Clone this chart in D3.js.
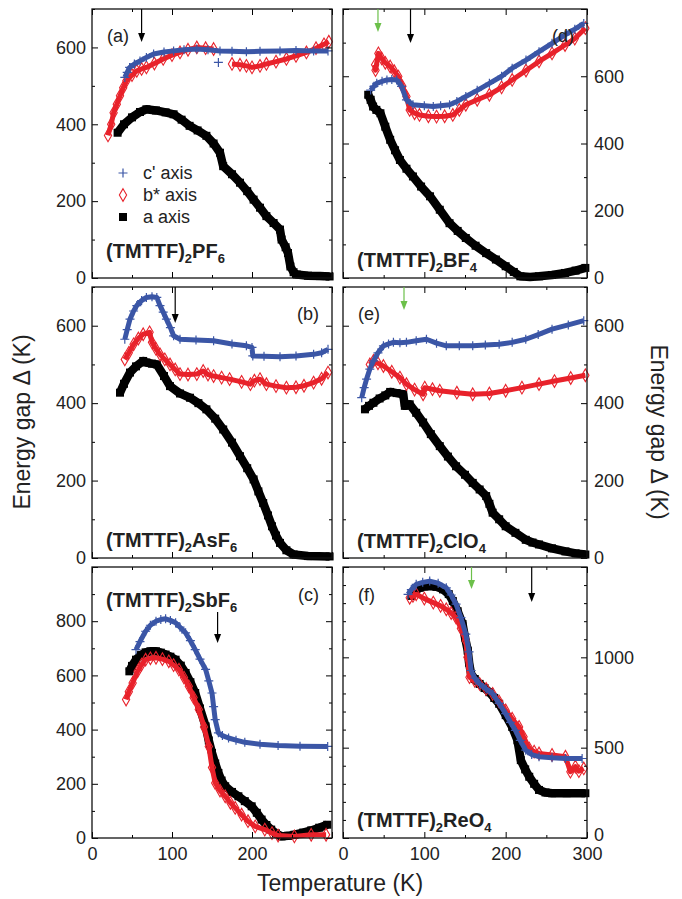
<!DOCTYPE html>
<meta charset="utf-8">
<head>
  <title>TMTTF energy gap</title>
  <style>
    body { margin: 0; background: #fff; }
    text { font-family: "Liberation Sans", Arial, sans-serif; }
  </style>
</head>
<body>
  <script src="https://d3js.org/d3.v7.min.js"></script>
  <div id="my_dataviz"></div>
  <script>
    // shared temperature ticks
    var tempMajor = [0, 100, 200, 300];
    var tempMinor = [50, 150, 250];

    // series: [T (K), gap (K)]  c' = blue, b* = red, a = black
    // (a) PF6
    var pf6_c = [[41,522],[44,535],[47,548],[53,557],[60,565],[68,574],[77,583],[90,588],[102,591],[115,594],[131,596],[145,594],[160,591],[175,590],[193,589],[210,590],[235,591],[255,592],[277,591],[295,591]];
    var pf6_cExtra = [[158,561]];
    var pf6_b = [[20,371],[24,400],[27,430],[31,452],[35,474],[39,495],[43,513],[50,528],[56,539],[62,544],[68,548],[78,558],[89,570],[100,580],[110,587],[120,594],[131,600],[142,598],[152,596],null,[175,557],[185,555],[193,552],[200,548],[210,552],[218,557],[230,563],[243,570],[255,578],[268,587],[280,598],[290,608],[296,615]];
    var pf6_a = [[32,378],[40,400],[50,418],[60,432],[68,439],[80,436],[92,431],[102,426],[112,412],[122,396],[132,384],[143,370],[152,350],[160,326],[164,291],[175,270],[185,248],[194,226],[202,204],[210,183],[218,161],[227,143],[235,126],[237,100],[242,80],[245,65],[248,30],[252,15],[256,9],[270,6],[285,5],[297,4]];

    // (d) BF4
    var bf4_c = [[34,559],[38,570],[41.5,579],[48,585],[54,589],[60,590],[66,589],[72,570],[78,530],[86,515],[100,512],[111,510],[120,512],[131,515],[140,525],[151,540],[165,558],[180,579],[195,600],[208,624],[225,648],[241,673],[257,698],[273,723],[285,740],[296,757]];
    var bf4_b = [[39.5,634],[40,618],[43.5,668],[47.5,653],[52,640],[58,629],[63,615],[68,599],[73,570],[78,540],[82,500],[88,490],[94,485],[105,481],[115,480],[125,481],[135,485],[143,500],[151,515],[165,530],[180,545],[195,567],[208,589],[225,617],[241,644],[257,668],[273,693],[285,712],[298,743]];
    var bf4_a = [[31,545],[34,530],[37,510],[41,500],[46,490],[52,450],[58,411],[64,380],[70,351],[78,325],[86,302],[96,272],[107,243],[119,203],[131,163],[141,140],[151,119],[163,96],[176,74],[188,55],[200,35],[210,18],[218,5],[230,3],[241,5],[257,9],[273,15],[286,22],[298,30]];

    // (b) AsF6
    var asf6_c = [[41,565],[44,590],[47.5,617],[52,638],[56,652],[62,665],[68,673],[75,675],[81,673],[85,652],[89,635],[93,617],[98,595],[102,574],[110,565],[130,563],[152,561],[175,553],[193,548],[200,544],[201,522],[215,521],[235,520],[255,522],[277,526],[287,530],[295,539]];
    var asf6_b = [[41,513],[46,530],[52,552],[58,567],[64,578],[72,583],[75,557],[80,540],[85,526],[91,513],[97.5,500],[104,487],[110,475],[120,474],[131,475],[139,483],[145,474],[152,470],[162,466],[172,462],[187,455],[198,449],[203,458],[210,462],[218,449],[230,444],[243,440],[255,441],[265,445],[277,453],[287,463],[295,479]];
    var asf6_a = [[35,427],[40,450],[47.5,479],[55,495],[64,509],[68,505],[75,502],[81,500],[90,470],[97.5,444],[110,425],[122.5,414],[133,400],[143,384],[154,360],[164,332],[175,298],[185,263],[194,232],[202,203],[208,172],[214,142],[220,110],[225,82],[230,58],[235,39],[243,20],[252,9],[270,5],[297,4]];

    // (e) ClO4
    var clo4_c = [[23,414],[26,440],[29,462],[33,488],[37.4,509],[43,530],[49.7,548],[56,553],[62,557],[70,556],[78,557],[90,561],[102.6,565],[115,555],[127,548],[143,548],[159.5,548],[175,550],[192,552],[208,557],[224.7,565],[240,577],[257,591],[277,602],[296,613]];
    var clo4_b = [[33,500],[37.4,509],[43,503],[49.7,496],[60,481],[70,466],[78,449],[88,435],[98.5,423],[100.5,440],[110,436],[119,432],[140,427],[159.5,423],[180,425],[200,432],[220,440],[241,449],[260,457],[280,465],[298,472]];
    var clo4_a = [[27,384],[32,393],[37.4,401],[45,412],[52,420],[58,429],[66,426],[74,423],[76,393],[82,397],[90,375],[98.5,350],[108,320],[119,289],[129,262],[139,237],[150,215],[159.5,194],[168,177],[176,160],[180,140],[184,117],[192,100],[200,82],[212,65],[224.7,47],[233,40],[241,35],[257,25],[273.5,17],[286,12],[298,9]];

    // (c) SbF6
    var sbf6_c = [[55,695],[60,725],[67,763],[73,785],[80,800],[86,806],[92,809],[98,803],[104.5,794],[110,778],[117,757],[123,728],[129,695],[135,660],[142,622],[146,580],[150,535],[152,485],[154,437],[158,388],[163,378],[170.7,369],[180,361],[191,353],[210,346],[232.6,341],[260,339],[294.6,338]];
    var sbf6_b = [[42.6,511],[46,540],[50.8,572],[57,615],[62,640],[67,658],[73,663],[80,665],[88,660],[96,652],[102,638],[108.7,621],[115,592],[121,560],[127,518],[133.5,474],[140,410],[146,338],[150,260],[154,203],[160,175],[166.5,154],[173,130],[179,111],[187,86],[195,62],[204,43],[216,31],[225,18],[232.6,9],[253,6],[274,12],[292.6,12]];
    var sbf6_a = [[46.7,615],[50,635],[55,658],[61,675],[67,685],[73,689],[80,689],[86,684],[92,677],[98,669],[104.5,658],[111,636],[117,609],[123,575],[129,535],[135,478],[142,412],[146,360],[150,314],[154,275],[158,240],[162,212],[166.5,191],[175,170],[183,154],[191,136],[199.6,117],[206,93],[212,68],[218,48],[224,31],[230,17],[237,6],[245,8],[253,12],[264,20],[274,28],[284,38],[294,49]];

    // (f) ReO4
    var reo4_c = [[80,1349],[84,1375],[90,1404],[98,1415],[106.6,1422],[117,1410],[127,1385],[133,1345],[139,1294],[145,1220],[151,1129],[155,1030],[157.5,927],[162,885],[168,853],[176,825],[184,798],[192,745],[200,688],[206,640],[212,596],[218,540],[224.7,486],[232,462],[241,450],[257,444],[273.5,440],[294,440]];
    var reo4_b = [[82,1330],[86,1340],[90,1349],[100,1325],[111,1303],[120,1285],[127,1266],[133,1245],[139,1220],[145,1160],[151,1092],[153,1000],[155.5,890],[162,870],[168,853],[176,825],[184,798],[192,755],[200,706],[208,660],[216.5,615],[222,560],[229,495],[235,478],[241,468],[257,460],[273.5,450],[279.6,367],[285.7,395],[290,370],[296,385]];
    var reo4_a = [[84,1340],[88,1365],[94.4,1385],[100,1392],[106.6,1395],[115,1390],[123,1376],[130,1350],[135,1312],[141,1255],[147,1184],[150,1110],[153.4,1037],[155,970],[157.5,908],[162,880],[168,853],[174,830],[180,807],[186,775],[192,743],[200,680],[208,615],[214.5,541],[218.6,431],[224,380],[229,339],[235,300],[241,266],[249,252],[257,248],[275,248],[298,248]];

    // transition temperatures marked by arrows
    var arrowsBlack = { a: [62], d: [83], b: [104], e: [], c: [157], f: [232] };
    var arrowsGreen = { a: [], d: [43], b: [], e: [75], c: [], f: [158] };

    var blue = "#3b56a6", red = "#e8222b", green = "#6cc04a";

    var colX = [92, 343], colW = [240, 244];
    var rowY = [9, 287, 567], rowH = [269, 271, 271];

    var panels = [
      { id: "a", col: 0, row: 0, ymax: 700, major: [0,200,400,600], minor: [100,300,500,700], anion: "PF", n: "6", c: pf6_c, b: pf6_b, a: pf6_a, labY: 249, letterRight: false, arrowTop: 0, arrowLen: [33, 0] },
      { id: "b", col: 0, row: 1, ymax: 700, major: [0,200,400,600], minor: [100,300,500,700], anion: "AsF", n: "6", c: asf6_c, b: asf6_b, a: asf6_a, labY: 260, letterRight: true, arrowTop: 0, arrowLen: [36, 0] },
      { id: "c", col: 0, row: 2, ymax: 1000, major: [0,200,400,600,800,1000], minor: [100,300,500,700,900], anion: "SbF", n: "6", c: sbf6_c, b: sbf6_b, a: sbf6_a, labY: 40, letterRight: true, arrowTop: 45, arrowLen: [31, 0] },
      { id: "d", col: 1, row: 0, ymax: 800, major: [0,200,400,600,800], minor: [100,300,500,700], anion: "BF", n: "4", c: bf4_c, b: bf4_b, a: bf4_a, labY: 258, letterRight: true, arrowTop: 0, arrowLen: [34, 23] },
      { id: "e", col: 1, row: 1, ymax: 700, major: [0,200,400,600], minor: [100,300,500,700], anion: "ClO", n: "4", c: clo4_c, b: clo4_b, a: clo4_a, labY: 261, letterRight: false, arrowTop: 0, arrowLen: [0, 23] },
      { id: "f", col: 1, row: 2, ymax: 1500, major: [0,500,1000,1500], minor: d3.range(100, 1500, 100).filter(function(v){ return v % 500; }), anion: "ReO", n: "4", c: reo4_c, b: reo4_b, a: reo4_a, labY: 260, letterRight: false, arrowTop: 0, arrowLen: [35, 22] }
    ];

    var svg = d3.select("#my_dataviz")
      .append("svg")
        .attr("width", 682)
        .attr("height", 899);

    var plus = "M-4.5,0H4.5M0,-4.5V4.5";
    var diamond = d3.symbol().type(d3.symbolDiamond).size(46)();

    panels.forEach(function(p) {
      var w = colW[p.col], h = rowH[p.row];
      var g = svg.append("g")
        .attr("transform", "translate(" + colX[p.col] + "," + rowY[p.row] + ")");

      var x = d3.scaleLinear().domain([0, 300]).range([0, w]);
      var y = d3.scaleLinear().domain([0, p.ymax]).range([h, 0]);

      var line = d3.line()
        .defined(function(d) { return d !== null; })
        .x(function(d) { return x(d[0]); })
        .y(function(d) { return y(d[1]); });

      // black a-axis band
      g.append("path").datum(p.a)
        .attr("d", line).attr("fill", "none")
        .attr("stroke", "#000").attr("stroke-width", 8.5)
        .attr("stroke-linejoin", "round");
      g.selectAll(".sq").data(p.a).enter().append("rect")
        .attr("x", function(d) { return x(d[0]) - 4; })
        .attr("y", function(d) { return y(d[1]) - 4; })
        .attr("width", 8).attr("height", 8).attr("fill", "#000");

      // red b* band
      g.append("path").datum(p.b)
        .attr("d", line).attr("fill", "none")
        .attr("stroke", red).attr("stroke-width", 5)
        .attr("stroke-linejoin", "round");
      g.selectAll(".dm").data(p.b.filter(function(d) { return d; })).enter().append("path")
        .attr("d", diamond)
        .attr("transform", function(d) { return "translate(" + x(d[0]) + "," + y(d[1]) + ")"; })
        .attr("fill", "none").attr("stroke", red).attr("stroke-width", 1.1);

      // blue c' band
      var cPts = p.id === "a" ? p.c.concat(pf6_cExtra) : p.c;
      g.append("path").datum(p.c)
        .attr("d", line).attr("fill", "none")
        .attr("stroke", blue).attr("stroke-width", 5)
        .attr("stroke-linejoin", "round");
      g.selectAll(".cr").data(cPts).enter().append("path")
        .attr("d", plus)
        .attr("transform", function(d) { return "translate(" + x(d[0]) + "," + y(d[1]) + ")"; })
        .attr("stroke", blue).attr("stroke-width", 1.2);

      // axes, ticks inward on all sides
      var bottomLab = p.row === 2;
      g.append("g").attr("transform", "translate(0," + h + ")")
        .call(d3.axisBottom(x).tickValues(tempMajor).tickSize(-6).tickPadding(9)
          .tickFormat(function(d) { return bottomLab && !(p.col === 0 && d === 300) ? d : ""; }));
      g.append("g").attr("transform", "translate(0," + h + ")")
        .call(d3.axisBottom(x).tickValues(tempMinor).tickSize(-3).tickFormat(""));
      g.append("g").call(d3.axisTop(x).tickValues(tempMajor).tickSize(-6).tickFormat(""));
      g.append("g").call(d3.axisTop(x).tickValues(tempMinor).tickSize(-3).tickFormat(""));

      g.append("g")
        .call(d3.axisLeft(y).tickValues(p.major).tickSize(-6).tickPadding(6)
          .tickFormat(function(d) { return p.col === 0 && d < p.ymax ? d : ""; }));
      g.append("g").call(d3.axisLeft(y).tickValues(p.minor).tickSize(-3).tickFormat(""));
      g.append("g").attr("transform", "translate(" + w + ",0)")
        .call(d3.axisRight(y).tickValues(p.major).tickSize(-6).tickPadding(7)
          .tickFormat(function(d) { return p.col === 1 && d < p.ymax ? d : ""; }));
      g.append("g").attr("transform", "translate(" + w + ",0)")
        .call(d3.axisRight(y).tickValues(p.minor).tickSize(-3).tickFormat(""));

      g.selectAll(".domain").remove();
      g.selectAll(".tick line").attr("stroke", "#000").attr("stroke-width", 1);
      g.selectAll(".tick text").attr("font-size", 18).attr("fill", "#222")
        .attr("font-family", "Liberation Sans, Arial, sans-serif");

      // lift the right-hand zero label of the bottom row a little off the x labels
      if (p.row === 2 && p.col === 1) {
        g.selectAll(".tick text").filter(function(d) { return d === 0 && this.getAttribute("x") > 0; })
          .attr("dy", "0.15em");
      }

      g.append("rect").attr("width", w).attr("height", h)
        .attr("fill", "none").attr("stroke", "#111").attr("stroke-width", 1.3);

      // arrows
      function arrow(T, len, color) {
        var ax = x(T), y0 = p.arrowTop, y1 = p.arrowTop + len;
        g.append("line").attr("x1", ax).attr("x2", ax).attr("y1", y0).attr("y2", y1 - 6)
          .attr("stroke", color).attr("stroke-width", 1.2);
        g.append("path")
          .attr("d", "M" + (ax - 3.5) + "," + (y1 - 9) + "L" + (ax + 3.5) + "," + (y1 - 9) + "L" + ax + "," + y1 + "Z")
          .attr("fill", color);
      }
      arrowsBlack[p.id].forEach(function(T) { arrow(T, p.arrowLen[0], "#000"); });
      arrowsGreen[p.id].forEach(function(T) { arrow(T, p.arrowLen[1], green); });

      // panel letter
      g.append("text")
        .attr("x", p.letterRight ? w - 13 : 15)
        .attr("y", p.row === 2 ? 34 : 33)
        .attr("text-anchor", p.letterRight ? "end" : "start")
        .attr("font-size", 18).attr("fill", "#222")
        .text("(" + p.id + ")");

      // compound name
      var lab = g.append("text")
        .attr("x", 14).attr("y", p.labY)
        .attr("font-size", 20).attr("font-weight", "bold").attr("fill", "#222");
      lab.append("tspan").text("(TMTTF)");
      lab.append("tspan").attr("font-size", 13).attr("dy", 5).text("2");
      lab.append("tspan").attr("dy", -5).text(p.anion);
      lab.append("tspan").attr("font-size", 13).attr("dy", 5).text(p.n);
    });

    // legend in panel (a)
    var leg = svg.append("g").attr("transform", "translate(" + colX[0] + "," + rowY[0] + ")");
    var legItems = ["c' axis", "b* axis", "a  axis"];
    legItems.forEach(function(t, i) {
      var ly = 164 + i * 22, lx = 31;
      if (i === 0) leg.append("path").attr("d", plus).attr("transform", "translate(" + lx + "," + ly + ")")
        .attr("stroke", blue).attr("stroke-width", 1.2);
      if (i === 1) leg.append("path").attr("d", diamond).attr("transform", "translate(" + lx + "," + ly + ")")
        .attr("fill", "none").attr("stroke", red).attr("stroke-width", 1.1);
      if (i === 2) leg.append("rect").attr("x", lx - 4).attr("y", ly - 4).attr("width", 8).attr("height", 8).attr("fill", "#000");
      leg.append("text").attr("x", lx + 20).attr("y", ly + 6)
        .attr("font-size", 18).attr("fill", "#222").text(t);
    });

    // axis titles
    svg.append("text")
      .attr("transform", "translate(30,422) rotate(-90)")
      .attr("text-anchor", "middle").attr("font-size", 23).attr("fill", "#222")
      .text("Energy gap \u0394 (K)");
    svg.append("text")
      .attr("transform", "translate(651,432) rotate(90)")
      .attr("text-anchor", "middle").attr("font-size", 23).attr("fill", "#222")
      .text("Energy gap \u0394 (K)");
    svg.append("text")
      .attr("x", 340).attr("y", 891)
      .attr("text-anchor", "middle").attr("font-size", 23).attr("fill", "#222")
      .text("Temperature (K)");
  </script>
</body>
